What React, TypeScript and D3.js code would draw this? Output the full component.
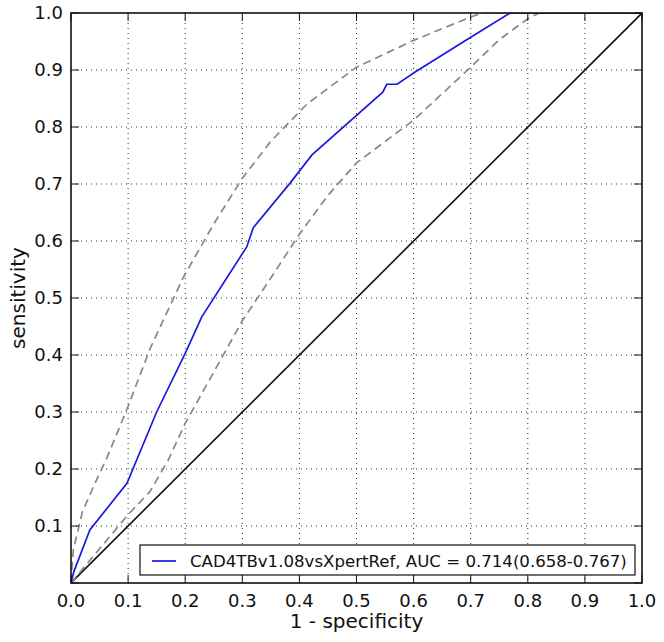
import { useRef, useEffect } from "react";
import * as d3 from "d3";

// ROC curve (1 - specificity, sensitivity)
const rocX = [0, 0.005, 0.033, 0.098, 0.15, 0.2, 0.229, 0.308, 0.319, 0.384, 0.422, 0.546, 0.553, 0.571, 0.602, 0.693, 0.769, 1];
const rocY = [0, 0.02, 0.093, 0.175, 0.3, 0.403, 0.467, 0.59, 0.623, 0.702, 0.751, 0.861, 0.875, 0.875, 0.896, 0.953, 1, 1];

// upper confidence band
const upperX = [0, 0.004, 0.02, 0.042, 0.063, 0.1, 0.138, 0.196, 0.25, 0.3, 0.35, 0.413, 0.5, 0.6, 0.7, 0.72, 1];
const upperY = [0, 0.058, 0.125, 0.175, 0.22, 0.31, 0.41, 0.535, 0.63, 0.71, 0.775, 0.84, 0.905, 0.952, 0.993, 1, 1];

// lower confidence band
const lowerX = [0, 0.05, 0.1, 0.138, 0.17, 0.2, 0.25, 0.3, 0.35, 0.4, 0.45, 0.5, 0.6, 0.7, 0.75, 0.8, 0.82, 1];
const lowerY = [0, 0.06, 0.12, 0.16, 0.215, 0.28, 0.37, 0.46, 0.535, 0.612, 0.68, 0.737, 0.812, 0.905, 0.953, 0.99, 1, 1];

const ticks = [0, 0.1, 0.2, 0.3, 0.4, 0.5, 0.6, 0.7, 0.8, 0.9, 1.0];
const legendLabel = "CAD4TBv1.08vsXpertRef, AUC = 0.714(0.658-0.767)";

const App = () => {
  const svgRef = useRef<SVGSVGElement>(null);

  useEffect(() => {
    const W = 664;
    const H = 642;
    const left = 71;
    const right = 642;
    const top = 13;
    const bottom = 583;
    const font = "DejaVu Sans, sans-serif";

    const svg = d3.select(svgRef.current);
    svg.selectAll("*").remove();
    svg.attr("width", W).attr("height", H);

    const x = d3.scaleLinear().domain([0, 1]).range([left, right]);
    const y = d3.scaleLinear().domain([0, 1]).range([bottom, top]);

    svg.append("rect").attr("width", W).attr("height", H).attr("fill", "white");

    // grid
    const grid = svg.append("g").attr("stroke", "#333").attr("stroke-width", 1).attr("stroke-dasharray", "1,4");
    ticks.slice(1, -1).forEach((t) => {
      grid.append("line").attr("x1", x(t)).attr("x2", x(t)).attr("y1", top).attr("y2", bottom);
      grid.append("line").attr("x1", left).attr("x2", right).attr("y1", y(t)).attr("y2", y(t));
    });

    const makePath = (xs: number[], ys: number[]) =>
      d3
        .line<number>()
        .x((d) => x(d))
        .y((d, i) => y(ys[i]))(xs);

    const clip = svg.append("clipPath").attr("id", "plotclip");
    clip.append("rect").attr("x", left).attr("y", top).attr("width", right - left).attr("height", bottom - top);
    const plot = svg.append("g").attr("clip-path", "url(#plotclip)");

    // chance line
    plot
      .append("path")
      .attr("d", makePath([0, 1], [0, 1]))
      .attr("fill", "none")
      .attr("stroke", "#111")
      .attr("stroke-width", 1.6);

    [
      [upperX, upperY],
      [lowerX, lowerY],
    ].forEach(([xs, ys]) => {
      plot
        .append("path")
        .attr("d", makePath(xs, ys))
        .attr("fill", "none")
        .attr("stroke", "#888")
        .attr("stroke-width", 1.7)
        .attr("stroke-dasharray", "8,5");
    });

    plot
      .append("path")
      .attr("d", makePath(rocX, rocY))
      .attr("fill", "none")
      .attr("stroke", "#1a1adf")
      .attr("stroke-width", 1.7);

    // frame
    svg
      .append("rect")
      .attr("x", left)
      .attr("y", top)
      .attr("width", right - left)
      .attr("height", bottom - top)
      .attr("fill", "none")
      .attr("stroke", "#111")
      .attr("stroke-width", 1.6);

    // ticks (inside, all four sides)
    const tk = svg.append("g").attr("stroke", "#111").attr("stroke-width", 1);
    const tl = 8;
    ticks.forEach((t) => {
      tk.append("line").attr("x1", x(t)).attr("x2", x(t)).attr("y1", bottom).attr("y2", bottom - tl);
      tk.append("line").attr("x1", x(t)).attr("x2", x(t)).attr("y1", top).attr("y2", top + tl);
      tk.append("line").attr("x1", left).attr("x2", left + tl).attr("y1", y(t)).attr("y2", y(t));
      tk.append("line").attr("x1", right).attr("x2", right - tl).attr("y1", y(t)).attr("y2", y(t));
    });

    // tick labels
    svg
      .append("g")
      .selectAll("text")
      .data(ticks)
      .join("text")
      .attr("x", (d) => x(d))
      .attr("y", bottom + 24)
      .attr("text-anchor", "middle")
      .style("font-family", font)
      .style("font-size", "18px")
      .attr("fill", "#111")
      .text((d) => d.toFixed(1));

    svg
      .append("g")
      .selectAll("text")
      .data(ticks.slice(1))
      .join("text")
      .attr("x", left - 8)
      .attr("y", (d) => y(d))
      .attr("dy", "0.36em")
      .attr("text-anchor", "end")
      .style("font-family", font)
      .style("font-size", "18px")
      .attr("fill", "#111")
      .text((d) => d.toFixed(1));

    // axis labels
    svg
      .append("text")
      .attr("x", (left + right) / 2)
      .attr("y", 628)
      .attr("text-anchor", "middle")
      .style("font-family", font)
      .style("font-size", "20px")
      .attr("fill", "#111")
      .text("1 - specificity");

    svg
      .append("text")
      .attr("transform", `translate(25, ${(top + bottom) / 2}) rotate(-90)`)
      .attr("text-anchor", "middle")
      .style("font-family", font)
      .style("font-size", "20px")
      .attr("fill", "#111")
      .text("sensitivity");

    // legend
    const lg = svg.append("g");
    lg.append("rect")
      .attr("x", 140)
      .attr("y", 545)
      .attr("width", 495)
      .attr("height", 30)
      .attr("fill", "white")
      .attr("stroke", "#111")
      .attr("stroke-width", 1.2);
    lg.append("line")
      .attr("x1", 152)
      .attr("x2", 176)
      .attr("y1", 561)
      .attr("y2", 561)
      .attr("stroke", "#1a1adf")
      .attr("stroke-width", 1.7);
    lg.append("text")
      .attr("x", 190)
      .attr("y", 561)
      .attr("dy", "0.36em")
      .style("font-family", font)
      .style("font-size", "16.6px")
      .attr("fill", "#111")
      .text(legendLabel);
  }, []);

  return (
    <div style={{ position: "absolute", left: 0, top: 0 }}>
      <svg ref={svgRef} style={{ display: "block" }}></svg>
    </div>
  );
};

export default App;
